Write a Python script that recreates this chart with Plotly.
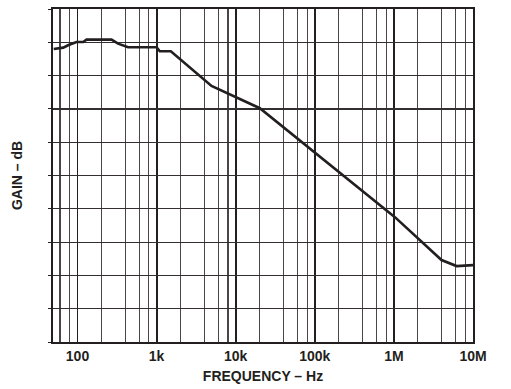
import numpy as np
import plotly.graph_objects as go

# Frequency (Hz) and gain (arbitrary dB scale, 10 divisions)
freq_hz = [50, 66, 76, 97, 118, 130, 269, 326, 436, 1000, 1097, 1513,
           4945, 20180, 1.03e6, 4.0e6, 6.2e6, 1.0e7]
gain_db = [88.0, 88.4, 89.1, 90.1, 90.1, 90.8, 90.8, 89.6, 88.5, 88.5, 87.3, 87.3,
           76.9, 70.2, 37.5, 24.6, 22.8, 23.1]

major_ticks = [100, 1e3, 1e4, 1e5, 1e6, 1e7]
major_labels = ["100", "1k", "10k", "100k", "1M", "10M"]
minor_ticks = [60, 80] + [m * d for d in [100, 1e3, 1e4, 1e5, 1e6] for m in (2, 4, 6, 8)]

ink = "#231f20"
fam = "Liberation Sans, Arial, sans-serif"

fig = go.Figure()
fig.add_trace(go.Scatter(x=freq_hz, y=gain_db, mode="lines",
                         line=dict(color=ink, width=2.6), hoverinfo="skip"))

fig.update_layout(
    width=511, height=389,
    margin=dict(l=53, r=38, t=7, b=46),
    paper_bgcolor="white", plot_bgcolor="white",
    showlegend=False,
    font=dict(family=fam, size=14, color=ink),
    xaxis=dict(
        type="log", range=[np.log10(49), 7],
        tickvals=major_ticks, ticktext=major_labels,
        tickfont=dict(family=fam, size=14, color=ink, weight="bold"),
        showgrid=True, gridcolor=ink, gridwidth=1.8,
        minor=dict(tickvals=minor_ticks, showgrid=True, gridcolor="#4a4647", gridwidth=1.1,
                   ticks=""),
        showline=True, linecolor=ink, linewidth=2, mirror=True,
        ticks="", zeroline=False,
        title=dict(text="<b>FREQUENCY – Hz</b>", standoff=8,
                   font=dict(family=fam, size=14, color=ink)),
    ),
    yaxis=dict(
        range=[0, 100], dtick=10, showticklabels=False,
        showgrid=True, gridcolor="#332f30", gridwidth=1.2,
        showline=True, linecolor=ink, linewidth=2, mirror=True,
        ticks="outside", ticklen=3, tickcolor=ink, zeroline=False,
        title=dict(text="<b>GAIN – dB</b>", standoff=22,
                   font=dict(family=fam, size=14, color=ink)),
    ),
)

fig.write_html("out.html", config={"displayModeBar": False, "staticPlot": True},
               post_script="document.body.style.margin='0';")
